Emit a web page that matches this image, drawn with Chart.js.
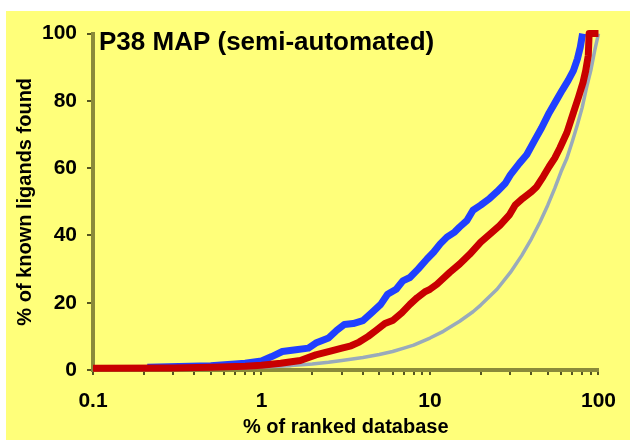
<!DOCTYPE html>
<html>
<head>
<meta charset="utf-8">
<script src="https://cdn.jsdelivr.net/npm/chart.js@4"></script>
<style>
  body { margin: 0; background: #fff; }
  #wrap { position: absolute; left: 6px; top: 11px; width: 624px; height: 429px; background: #ffff7a; }
</style>
</head>
<body>
<div id="wrap"><canvas id="enrich" width="624" height="429"></canvas></div>
<script>
// % of ranked database vs % of known ligands found
const redPoints = [
  [0.1, 0.5], [0.3, 0.6], [0.5, 0.8], [0.8, 1.1], [1.0, 1.4], [1.3, 2.0], [1.7, 2.8], [2.1, 4.5],
  [2.6, 5.7], [3.0, 6.5], [3.4, 7.2], [3.8, 8.3], [4.3, 10], [4.8, 11.8], [5.4, 13.8], [6.0, 14.7],
  [6.8, 17], [7.6, 19.5], [8.4, 21.5], [9.3, 23.2], [10, 24], [11, 25.5], [13.1, 29], [15, 31.5],
  [17.2, 34.4], [20, 38], [22.6, 40.3], [26, 43], [29.7, 46.2], [32, 49], [35.5, 51], [40, 53],
  [43, 54.5], [47, 57.5], [51, 60.5], [55, 63], [59, 66], [65, 70.6], [71, 76.5], [76, 81],
  [81, 85.5], [84, 89], [87, 93.5], [88, 100], [100, 100]
];
const bluePoints = [
  [0.21, 0.8], [0.5, 1.3], [0.8, 2], [1.0, 2.7], [1.15, 4], [1.33, 5.5], [1.6, 6], [1.9, 6.5],
  [2.1, 8], [2.5, 9.5], [2.8, 11.8], [3.1, 13.5], [3.5, 13.8], [4.0, 14.7], [4.5, 17], [5.1, 19.5],
  [5.6, 22.5], [6.3, 24], [6.9, 26.5], [7.6, 27.5], [8.5, 30], [9.6, 33], [10.5, 35], [11.5, 37.5],
  [12.6, 39.5], [14, 41], [15, 42.5], [16.6, 44.5], [18, 47.5], [20, 49], [22.6, 51], [25, 53],
  [28, 55.5], [30, 58], [34, 61.5], [37.5, 64], [42, 68.5], [46, 72], [51, 76.5], [56, 80],
  [61, 83.2], [66, 86], [71, 89], [75, 92.5], [78, 96], [80.5, 100]
];
const randomPoints = [
  [0.2, 0.2], [0.3, 0.3], [0.5, 0.5], [0.7, 0.6], [1, 0.9], [1.5, 1.3], [2, 1.8], [2.5, 2.3],
  [3, 2.8], [4, 3.7], [5, 4.6], [6, 5.5], [7, 6.5], [8, 7.4], [10, 9.5], [12, 11.5], [15, 14.5],
  [18, 17.3], [20, 19.3], [25, 24], [30, 29], [35, 34], [40, 39], [45, 44], [50, 49], [55, 54],
  [60, 59], [65, 63], [70, 68], [75, 73], [80, 78], [85, 84], [90, 89], [95, 95], [100, 100]
];
const xTickValues = [
  0.1, 0.2, 0.3, 0.4, 0.5, 0.6, 0.7, 0.8, 0.9,
  1, 2, 3, 4, 5, 6, 7, 8, 9,
  10, 20, 30, 40, 50, 60, 70, 80, 90, 100
];
const xLabels = { 0.1: '0.1', 1: '1', 10: '10', 100: '100' };
const yTickValues = [0, 20, 40, 60, 80, 100];

const FONT = '"Liberation Sans", Arial, sans-serif';
const AXIS = '#8a8a3a';

const toXY = pts => pts.map(p => ({ x: p[0], y: p[1] }));

// title sits inside the plot, top-left
const plotTitle = {
  id: 'plotTitle',
  afterDraw(chart) {
    const { ctx, chartArea } = chart;
    ctx.save();
    ctx.font = 'bold 26px ' + FONT;
    ctx.fillStyle = '#000';
    ctx.textBaseline = 'alphabetic';
    ctx.fillText('P38 MAP (semi-automated)', chartArea.left + 6, chartArea.top + 16);
    ctx.restore();
  }
};

new Chart(document.getElementById('enrich'), {
  type: 'line',
  data: {
    datasets: [
      { data: toXY(redPoints), borderColor: '#c80000', borderWidth: 7 },
      { data: toXY(bluePoints), borderColor: '#2040ff', borderWidth: 7 },
      { data: toXY(randomPoints), borderColor: '#99aabb', borderWidth: 3.5 }
    ]
  },
  options: {
    responsive: false,
    animation: false,
    datasets: { line: { pointRadius: 0, tension: 0, clip: false, fill: false, borderJoinStyle: 'round' } },
    layout: { padding: { top: 19, right: 30, left: 0, bottom: 0 } },
    plugins: { legend: { display: false }, tooltip: { enabled: false } },
    scales: {
      x: {
        type: 'logarithmic',
        min: 0.1,
        max: 100,
        afterFit: s => { s.height = 70; },
        afterBuildTicks: s => { s.ticks = xTickValues.map(v => ({ value: v })); },
        border: { display: true, color: AXIS, width: 4 },
        grid: { drawOnChartArea: false, color: '#555522', lineWidth: 2, tickLength: 5 },
        ticks: {
          autoSkip: false,
          maxRotation: 0,
          padding: 14,
          color: '#000',
          font: { family: FONT, size: 21, weight: 'bold' },
          callback: v => xLabels[v] || ''
        },
        title: {
          display: true,
          text: '% of ranked database',
          color: '#000',
          padding: { top: 0, bottom: 1 },
          font: { family: FONT, size: 20, weight: 'bold' }
        }
      },
      y: {
        min: 0,
        max: 100,
        afterFit: s => { s.width = 87; },
        afterBuildTicks: s => { s.ticks = yTickValues.map(v => ({ value: v })); },
        border: { display: true, color: AXIS, width: 4 },
        grid: { drawOnChartArea: false, color: '#555522', lineWidth: 2, tickLength: 6 },
        ticks: {
          padding: 10,
          color: '#000',
          font: { family: FONT, size: 21, weight: 'bold' }
        },
        title: {
          display: true,
          text: '% of known ligands found',
          color: '#000',
          padding: { top: 7, bottom: 0 },
          font: { family: FONT, size: 20, weight: 'bold' }
        }
      }
    }
  },
  plugins: [plotTitle]
});
</script>
</body>
</html>
